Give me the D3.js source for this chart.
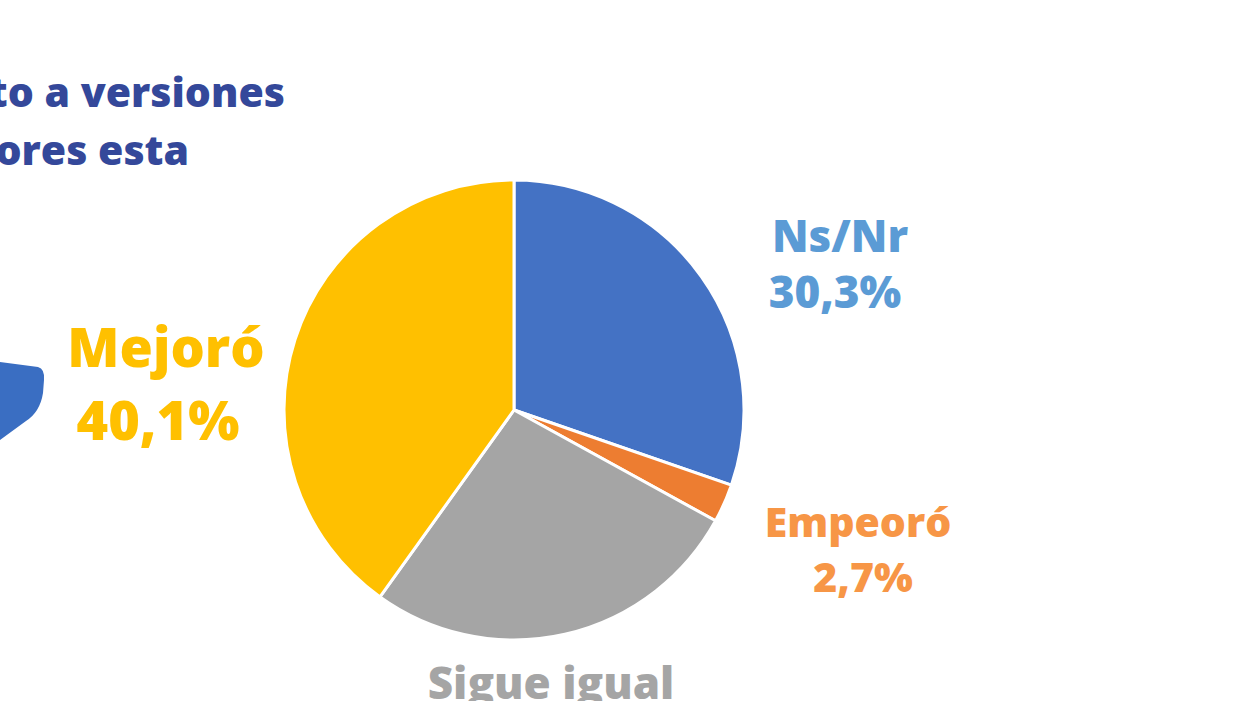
<!DOCTYPE html>
<html>
<head>
<meta charset="utf-8">
<script src="https://cdn.jsdelivr.net/npm/d3@7"></script>
<style>
body{margin:0;background:#fff;overflow:hidden}
text{font-family:"Open Sans",sans-serif;font-weight:800}
</style>
</head>
<body>
<div id="chart"></div>
<script>
var categories = ["Ns/Nr", "Empeoró", "Sigue igual", "Mejoró"];
var values = [30.3, 2.7, 26.9, 40.1];
var valueLabels = ["30,3%", "2,7%", "", "40,1%"];
var titleLines = ["to a versiones", "ores esta"];

var w = 1233, h = 701;
var cx = 514, cy = 410, radius = 230;

var sliceColors = ["#4472C4", "#ED7D31", "#A5A5A5", "#FFC000"];
var textColors = ["#5B9BD5", "#F79646", "#A5A5A5", "#FFC000"];

var svg = d3.select("#chart")
  .append("svg")
  .attr("width", w)
  .attr("height", h);

// blue bubble piece on the left edge
svg.append("path")
  .attr("d", "M0,362 L38,367 Q45,369 44,380 L43,393 Q40,412 26,421 L0,440 Z")
  .attr("fill", "#3A6EC2");

// title (cut by the left edge)
svg.append("g")
  .selectAll("text")
  .data(titleLines)
  .enter()
  .append("text")
  .attr("x", function(d, i){ return i == 0 ? 285 : 189 })
  .attr("y", function(d, i){ return 107 + i * 58 })
  .attr("text-anchor", "end")
  .attr("fill", "#34489A")
  .style("font-size", "41px")
  .text(function(d){ return d });

var pie = d3.pie().sort(null).value(function(d){ return d });
var arc = d3.arc().innerRadius(0).outerRadius(radius);
var arcs = pie(values);

var g = svg.append("g")
  .attr("transform", "translate(" + cx + "," + cy + ")");

g.selectAll("path")
  .data(arcs)
  .enter()
  .append("path")
  .attr("d", arc)
  .attr("fill", function(d, i){ return sliceColors[i] })
  .attr("stroke", "#fff")
  .attr("stroke-width", 3)
  .attr("stroke-linejoin", "round");

// label positions: [name x, name y, value x, value y, size]
var labelPos = [
  [840, 252, 835, 308, 44],
  [858, 537, 863, 592, 41],
  [551, 699, 551, 699, 44],
  [166, 367, 158, 440, 54]
];

var labels = svg.append("g");
categories.forEach(function(c, i) {
  var p = labelPos[i];
  labels.append("text")
    .attr("x", p[0]).attr("y", p[1])
    .attr("text-anchor", "middle")
    .attr("fill", textColors[i])
    .style("font-size", p[4] + "px")
    .text(c);
  if (valueLabels[i] != "") {
    labels.append("text")
      .attr("x", p[2]).attr("y", p[3])
      .attr("text-anchor", "middle")
      .attr("fill", textColors[i])
      .style("font-size", p[4] + "px")
      .text(valueLabels[i]);
  }
});
</script>
</body>
</html>
